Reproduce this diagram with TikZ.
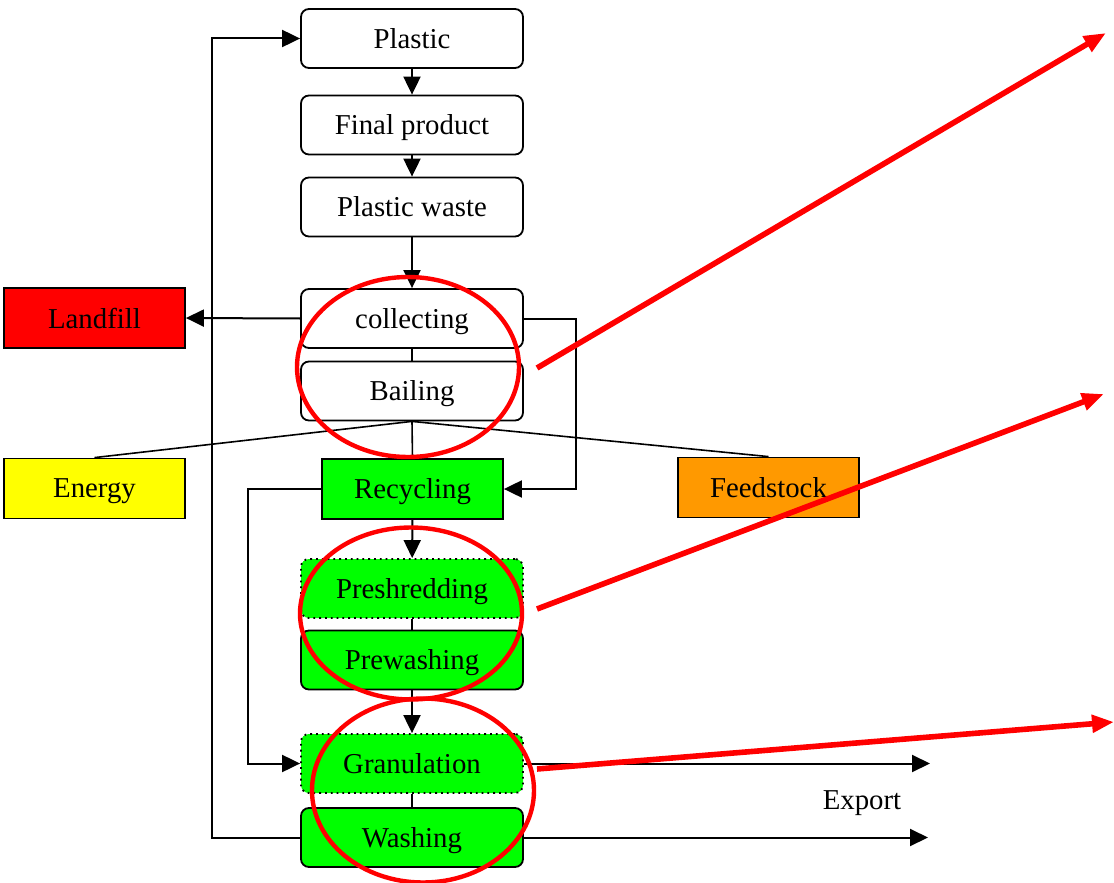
\documentclass[tikz,border=0pt]{standalone}
\usepackage{fontspec}
\setmainfont{Liberation Serif}
\usetikzlibrary{arrows.meta}
\definecolor{gfill}{HTML}{00FF00}
\definecolor{ofill}{HTML}{FF9900}
\definecolor{yfill}{HTML}{FFFF00}
\definecolor{rfill}{HTML}{FF0000}
\tikzset{
  base/.style={draw, line width=0.9pt, inner sep=0pt, text depth=0pt, font=\fontsize{14.4}{17}\selectfont},
  rbox/.style={base, rounded corners=4pt, minimum width=111pt, minimum height=29.5pt},
  sqbox/.style={base, minimum width=90.5pt, minimum height=30pt},
  dotbox/.style={rbox, dotted},
  arr/.style={line width=1pt, -{Triangle[length=9pt,width=8.5pt]}},
  ln/.style={line width=0.8pt},
  redc/.style={draw=rfill, line width=2.2pt},
  reda/.style={rfill, line width=2.8pt, -{Triangle[length=11pt,width=8.5pt]}},
}
\begin{document}
\begin{tikzpicture}[x=0.5pt,y=-0.5pt]
\useasboundingbox (0,0) rectangle (1114,883);
% nodes
\node[rbox] (plastic) at (412,38.5) {Plastic};
\node[rbox] (final) at (412,125) {Final product};
\node[rbox] (waste) at (412,207) {Plastic waste};
\node[rbox] (collecting) at (412,318.5) {collecting};
\node[rbox] (bailing) at (412,391) {Bailing};
\node[sqbox, fill=rfill] (landfill) at (94.5,318) {Landfill};
\node[sqbox, fill=yfill] (energy) at (94.5,488.5) {Energy};
\node[sqbox, fill=gfill] (recycling) at (412.5,489) {Recycling};
\node[sqbox, fill=ofill] (feedstock) at (768.5,487.5) {Feedstock};
\node[dotbox, fill=gfill] (preshred) at (412,588.5) {Preshredding};
\node[rbox, fill=gfill] (prewash) at (412,660) {Prewashing};
\node[dotbox, fill=gfill] (granul) at (412,763.5) {Granulation};
\node[rbox, fill=gfill] (washing) at (412,837.5) {Washing};
\node[font=\fontsize{14.4}{17}\selectfont] (export) at (862,803) {Export};
\coordinate (exp1) at (930,763.5);
\coordinate (exp2) at (928,837.5);
% connectors
\draw[arr] (plastic) -- (final);
\draw[arr] (final) -- (waste);
\draw[arr] (waste) -- (collecting);
\draw[ln] (collecting) -- (bailing);
\draw[arr] (washing.west) -- ++(-88,0) |- (plastic.west);
\draw[arr] (collecting.west) -- (landfill.east);
\draw[arr] (collecting.east) -- ++(52,0) |- (recycling.east);
\draw[ln] (bailing.south) -- (energy.north);
\draw[ln] (bailing.south) -- (feedstock.north);
\draw[ln] (bailing.south) -- (recycling.north);
\draw[arr] (recycling.west) -- ++(-73,0) |- (granul.west);
\draw[arr] (recycling) -- (preshred);
\draw[ln] (preshred) -- (prewash);
\draw[arr] (prewash) -- (granul);
\draw[ln] (granul) -- (washing);
\draw[arr] (granul.east) -- (exp1);
\draw[arr] (washing.east) -- (exp2);
% red highlights
\draw[redc] (408,367) ellipse [x radius=55.5pt, y radius=45pt];
\draw[redc] (411,613.5) ellipse [x radius=55.5pt, y radius=43pt];
\draw[redc] (423,790.5) ellipse [x radius=55.5pt, y radius=46pt];
\coordinate (r1s) at (537,368);
\coordinate (r1e) at (1106,33);
\coordinate (r2s) at (537,609);
\coordinate (r2e) at (1104,394);
\coordinate (r3s) at (537,769);
\coordinate (r3e) at (1114,722);
\draw[reda] (r1s) -- (r1e);
\draw[reda] (r2s) -- (r2e);
\draw[reda] (r3s) -- (r3e);
\end{tikzpicture}
\end{document}
